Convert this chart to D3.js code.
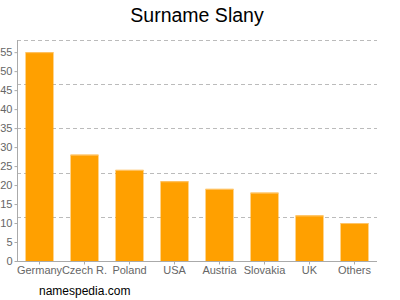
<!DOCTYPE html>
<html>
<head>
<meta charset="utf-8">
<script src="https://cdn.jsdelivr.net/npm/d3@7"></script>
<style>
  body { margin: 0; background: #fff; }
  text { font-family: "Liberation Sans", Arial, sans-serif; }
</style>
</head>
<body>
<svg id="chart" width="400" height="300"></svg>
<script>
const countries = ["Germany", "Czech R.", "Poland", "USA", "Austria", "Slovakia", "UK", "Others"];
const counts = [55, 28, 24, 21, 19, 18, 12, 10];
const yTicks = [0, 5, 10, 15, 20, 25, 30, 35, 40, 45, 50, 55];
const yMax = 58.2;

const svg = d3.select("#chart");
const M = {left: 17, right: 377, top: 40, bottom: 261};

const x = d3.scaleBand().domain(countries).range([M.left, M.right]).paddingInner(0.38).paddingOuter(0.19);
const y = d3.scaleLinear().domain([0, yMax]).range([M.bottom, M.top]);

// title
svg.append("text").attr("x", 197).attr("y", 22).attr("text-anchor", "middle")
  .style("font-size", "19.5px").attr("fill", "#000").text("Surname Slany");

// dashed grid, 5 equal divisions
const grid = d3.range(1, 6).map(i => yMax * i / 5);
svg.append("g").selectAll("line").data(grid).join("line")
  .attr("x1", M.left).attr("x2", M.right).attr("y1", d => Math.round(y(d)) + 0.5).attr("y2", d => Math.round(y(d)) + 0.5)
  .attr("stroke", "#bbb").attr("stroke-dasharray", "4,3");

// bars
const bars = svg.append("g").selectAll("g").data(countries).join("g");
bars.append("rect").attr("x", d => x(d)).attr("width", x.bandwidth())
  .attr("y", (d, i) => y(counts[i])).attr("height", (d, i) => M.bottom - y(counts[i])).attr("fill", "#ffa000");
bars.append("rect").attr("x", d => x(d)).attr("width", x.bandwidth())
  .attr("y", (d, i) => y(counts[i])).attr("height", 1).attr("fill", "#ffc56a");

// y axis
const yAxis = svg.append("g").attr("transform", `translate(${M.left + 0.5},0)`)
  .call(d3.axisLeft(y).tickValues(yTicks).tickSize(3).tickPadding(2));
yAxis.select(".domain").attr("stroke", "#aaa").attr("d", `M0,${M.top}V${M.bottom}`);
yAxis.selectAll(".tick line").attr("stroke", "#aaa");
yAxis.selectAll(".tick text").attr("fill", "#666").style("font-size", "11px").style("font-family", "Liberation Sans, Arial, sans-serif");

// x axis
const xAxis = svg.append("g").attr("transform", `translate(0,${M.bottom + 0.5})`)
  .call(d3.axisBottom(x).tickSize(3).tickPadding(2));
xAxis.select(".domain").attr("stroke", "#aaa").attr("d", `M${M.left},0H${M.right}`);
xAxis.selectAll(".tick line").attr("stroke", "#aaa");
xAxis.selectAll(".tick text").attr("fill", "#666").style("font-size", "11px").style("font-family", "Liberation Sans, Arial, sans-serif");

// footer
svg.append("text").attr("x", 39).attr("y", 295).style("font-size", "12px").attr("fill", "#000").text("namespedia.com");
</script>
</body>
</html>
